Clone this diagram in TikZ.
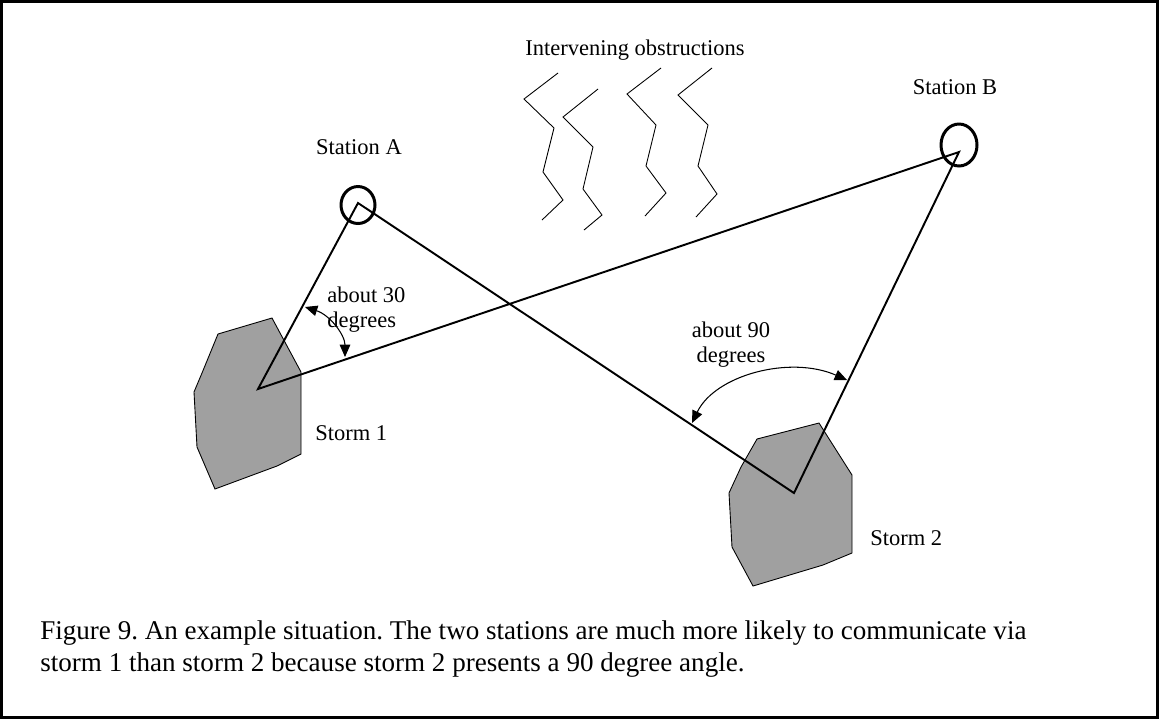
\documentclass[tikz,border=0pt]{standalone}
\usepackage{fontspec}
\setmainfont{Liberation Serif}
\usetikzlibrary{arrows.meta}
\definecolor{stormgray}{RGB}{160,160,160}

\begin{document}
\frenchspacing
\begin{tikzpicture}[x=0.2mm, y=-0.2mm, >={Triangle[length=7pt,width=6pt]},
    txt/.style={inner sep=0pt, font=\fontsize{12.8}{14.5}\selectfont},
    storm/.style={draw, line width=0.5pt, fill=stormgray},
    ray/.style={line width=1.1pt},
    zig/.style={line width=0.5pt}]
    \useasboundingbox (0,0) rectangle (1159,719);
    % frame
    \draw[line width=1.6pt] (1.5,1.5) rectangle (1157.5,717.5);

    % stations and storm centres
    \coordinate (A) at (358,203);
    \coordinate (B) at (959,152);
    \coordinate (S1) at (258,389);
    \coordinate (S2) at (794,493);

    % storms
    \draw[storm] (218,334) -- (272,318) -- (301,372) -- (301,454) -- (277,466)
        -- (215,489) -- (197,447) -- (194,392) -- (202,373) -- cycle;
    \draw[storm] (757,439) -- (819,423) -- (852,475) -- (852,553) -- (823,565)
        -- (753,586) -- (732,547) -- (729,493) -- (741,467) -- cycle;

    % paths
    \draw[ray] (A) -- (S1) -- (B) -- (S2) -- cycle;

    % station rings
    \draw[line width=1.7pt] (358,205) ellipse [x radius=17, y radius=18.5];
    \draw[line width=1.7pt] (959,145) ellipse [x radius=18, y radius=21];

    % obstructions
    \draw[zig] (558,73) -- (524,99) -- (554,128) -- (543,172) -- (563,200) -- (542,220);
    \draw[zig] (598,89) -- (563,117) -- (593,147) -- (583,189) -- (602,215) -- (584,230);
    \draw[zig] (661,68) -- (627,94) -- (656,125) -- (646,166) -- (666,193) -- (645,216);
    \draw[zig] (712,68) -- (678,95) -- (708,125) -- (698,166) -- (717,194) -- (696,217);

    % angle arrows
    \draw[<->, line width=0.6pt] (305,307) .. controls (330,315) and (345,335) .. (345,357);
    \draw[<->, line width=0.6pt] (692,423) .. controls (715,375) and (790,355) .. (847,380);

    % labels
    \node[txt] (obst) at (635,50) {Intervening obstructions};
    \node[txt] (labA) at (359,147) {Station A};
    \node[txt] (labB) at (955,87) {Station B};
    \node[txt, align=left, anchor=west, font=\fontsize{12.8}{14.2}\selectfont] (ang1) at (327,310) {about 30\\degrees};
    \node[txt, align=center, font=\fontsize{12.8}{14.2}\selectfont] (ang2) at (731,345) {about 90\\degrees};
    \node[txt, anchor=west] (lab1) at (315,433) {Storm 1};
    \node[txt, anchor=west] (lab2) at (870,538) {Storm 2};
    \node[txt, align=left, anchor=west, font=\fontsize{15.4}{18.1}\selectfont] (caption) at (40,649)
        {Figure 9. An example situation. The two stations are much more likely to communicate via\\
         storm 1 than storm 2 because storm 2 presents a 90 degree angle.};
\end{tikzpicture}
\end{document}
